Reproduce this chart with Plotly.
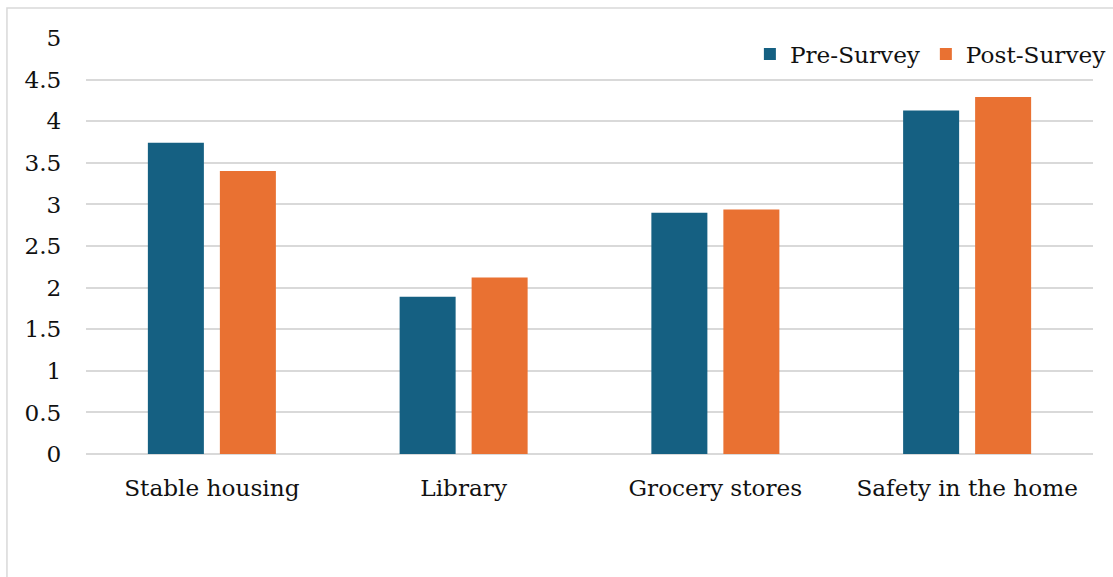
import plotly.graph_objects as go

# Survey ratings per community resource
categories = ["Stable housing", "Library", "Grocery stores", "Safety in the home"]
pre_survey = [3.74, 1.89, 2.90, 4.13]
post_survey = [3.40, 2.12, 2.94, 4.29]
y_ticks = [0, 0.5, 1, 1.5, 2, 2.5, 3, 3.5, 4, 4.5, 5]
y_tick_text = ["0", "0.5", "1", "1.5", "2", "2.5", "3", "3.5", "4", "4.5", "5"]

FONT = "DejaVu Serif"
GRID = "#d9d9d9"
FS = 23.2

fig = go.Figure()
fig.add_trace(go.Bar(name="Pre-Survey", x=categories, y=pre_survey,
                     marker=dict(color="#156082", line=dict(width=0))))
fig.add_trace(go.Bar(name="Post-Survey", x=categories, y=post_survey,
                     marker=dict(color="#E97132", line=dict(width=0))))

fig.update_layout(
    width=1113, height=577,
    margin=dict(l=86, r=20, t=38, b=123, autoexpand=False),
    paper_bgcolor="white", plot_bgcolor="white",
    barmode="group", bargap=0.428, bargroupgap=0.222,
    font=dict(family=FONT, size=FS, color="#111111"),
    showlegend=True,
    legend=dict(orientation="h", xref="container", yref="container",
                x=0.999, xanchor="right", y=0.944, yanchor="top",
                bgcolor="rgba(0,0,0,0)", font=dict(size=FS, family=FONT),
                itemwidth=30, traceorder="normal"),
    xaxis=dict(showgrid=False, showline=False, ticks="outside", ticklen=13,
               tickcolor="rgba(0,0,0,0)", tickfont=dict(size=FS, family=FONT)),
    yaxis=dict(range=[0, 5], tickvals=y_ticks, ticktext=y_tick_text,
               showgrid=True, gridcolor=GRID, gridwidth=1.5,
               zeroline=True, zerolinecolor=GRID, zerolinewidth=1.5,
               showline=False, ticks="outside", ticklen=19,
               tickcolor="rgba(0,0,0,0)", tickfont=dict(size=FS, family=FONT)),
    shapes=[dict(type="rect", xref="paper", yref="paper",
                 x0=-0.0785, x1=1.03, y0=-0.33, y1=1.072,
                 line=dict(color=GRID, width=1.5), layer="below")],
)

fig.write_html("out.html")
